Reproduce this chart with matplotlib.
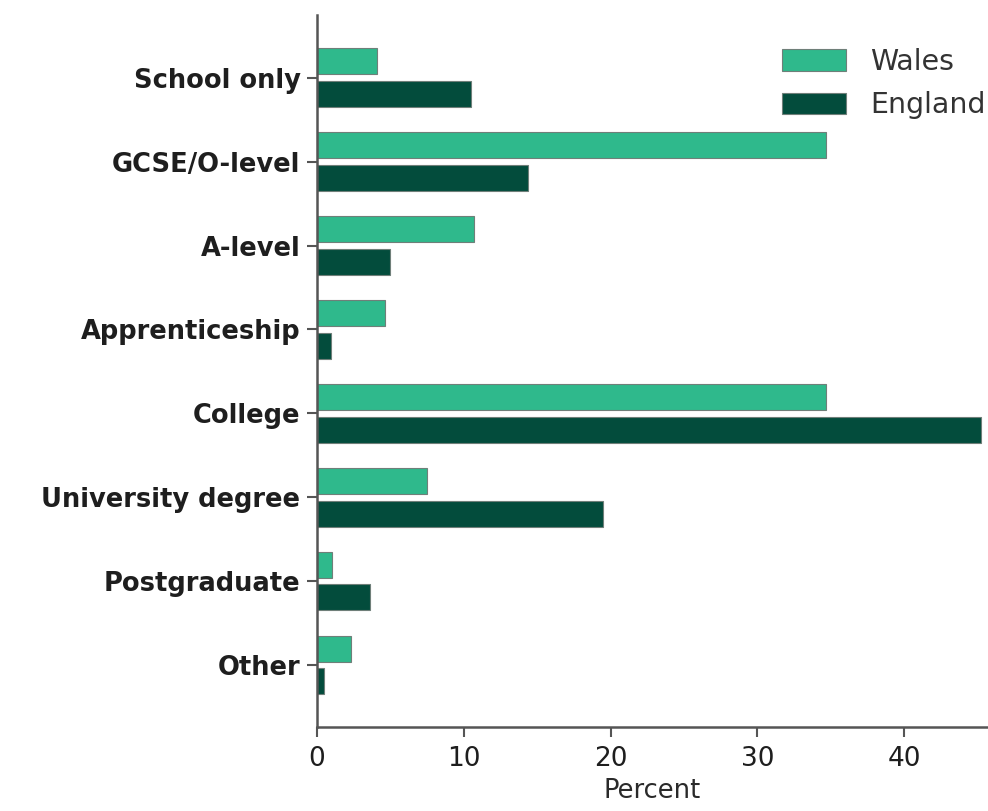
import matplotlib.pyplot as plt
import numpy as np

categories = ["School only", "GCSE/O-level", "A-level", "Apprenticeship",
              "College", "University degree", "Postgraduate", "Other"]
wales = [4.1, 34.7, 10.7, 4.6, 34.7, 7.5, 1.0, 2.3]
england = [10.5, 14.4, 5.0, 0.95, 45.2, 19.5, 3.6, 0.5]
xticks = [0, 10, 20, 30, 40]

wales_col = "#2fb98c"
england_col = "#034c3c"
edge = "#6f7f79"

fig = plt.figure(figsize=(9.88, 8.11), dpi=100)
ax = fig.add_axes([0.3209, 0.1036, 0.679, 0.878])

y = np.arange(len(categories))
h = 0.31
ax.barh(y - 0.195, wales, height=h, color=wales_col, edgecolor=edge, linewidth=0.8, label="Wales")
ax.barh(y + 0.195, england, height=h, color=england_col, edgecolor=edge, linewidth=0.8, label="England")

ax.set_ylim(7.74, -0.75)
ax.set_xlim(0, 45.7)
ax.set_yticks(y)
ax.set_yticklabels(categories, fontsize=18.5, fontweight="bold", color="#1e1e1e")
ax.set_xticks(xticks)
ax.set_xticklabels([str(t) for t in xticks], fontsize=19, color="#1e1e1e")
ax.set_xlabel("Percent", fontsize=18.5, color="#2a2a2a", labelpad=4)

for s in ["top", "right"]:
    ax.spines[s].set_visible(False)
for s in ["left", "bottom"]:
    ax.spines[s].set_color("#555555")
    ax.spines[s].set_linewidth(1.8)
ax.tick_params(axis="y", length=7, width=1.5, color="#555555", pad=5)
ax.tick_params(axis="x", length=7, width=1.5, color="#555555", pad=7)

ax.legend(loc="upper right", frameon=False, fontsize=20.5, handlelength=2.25,
          handleheight=0.8, handletextpad=0.85, labelspacing=0.55,
          labelcolor="#333333", bbox_to_anchor=(1.035, 0.99))

fig.savefig("out.png", dpi=100)
